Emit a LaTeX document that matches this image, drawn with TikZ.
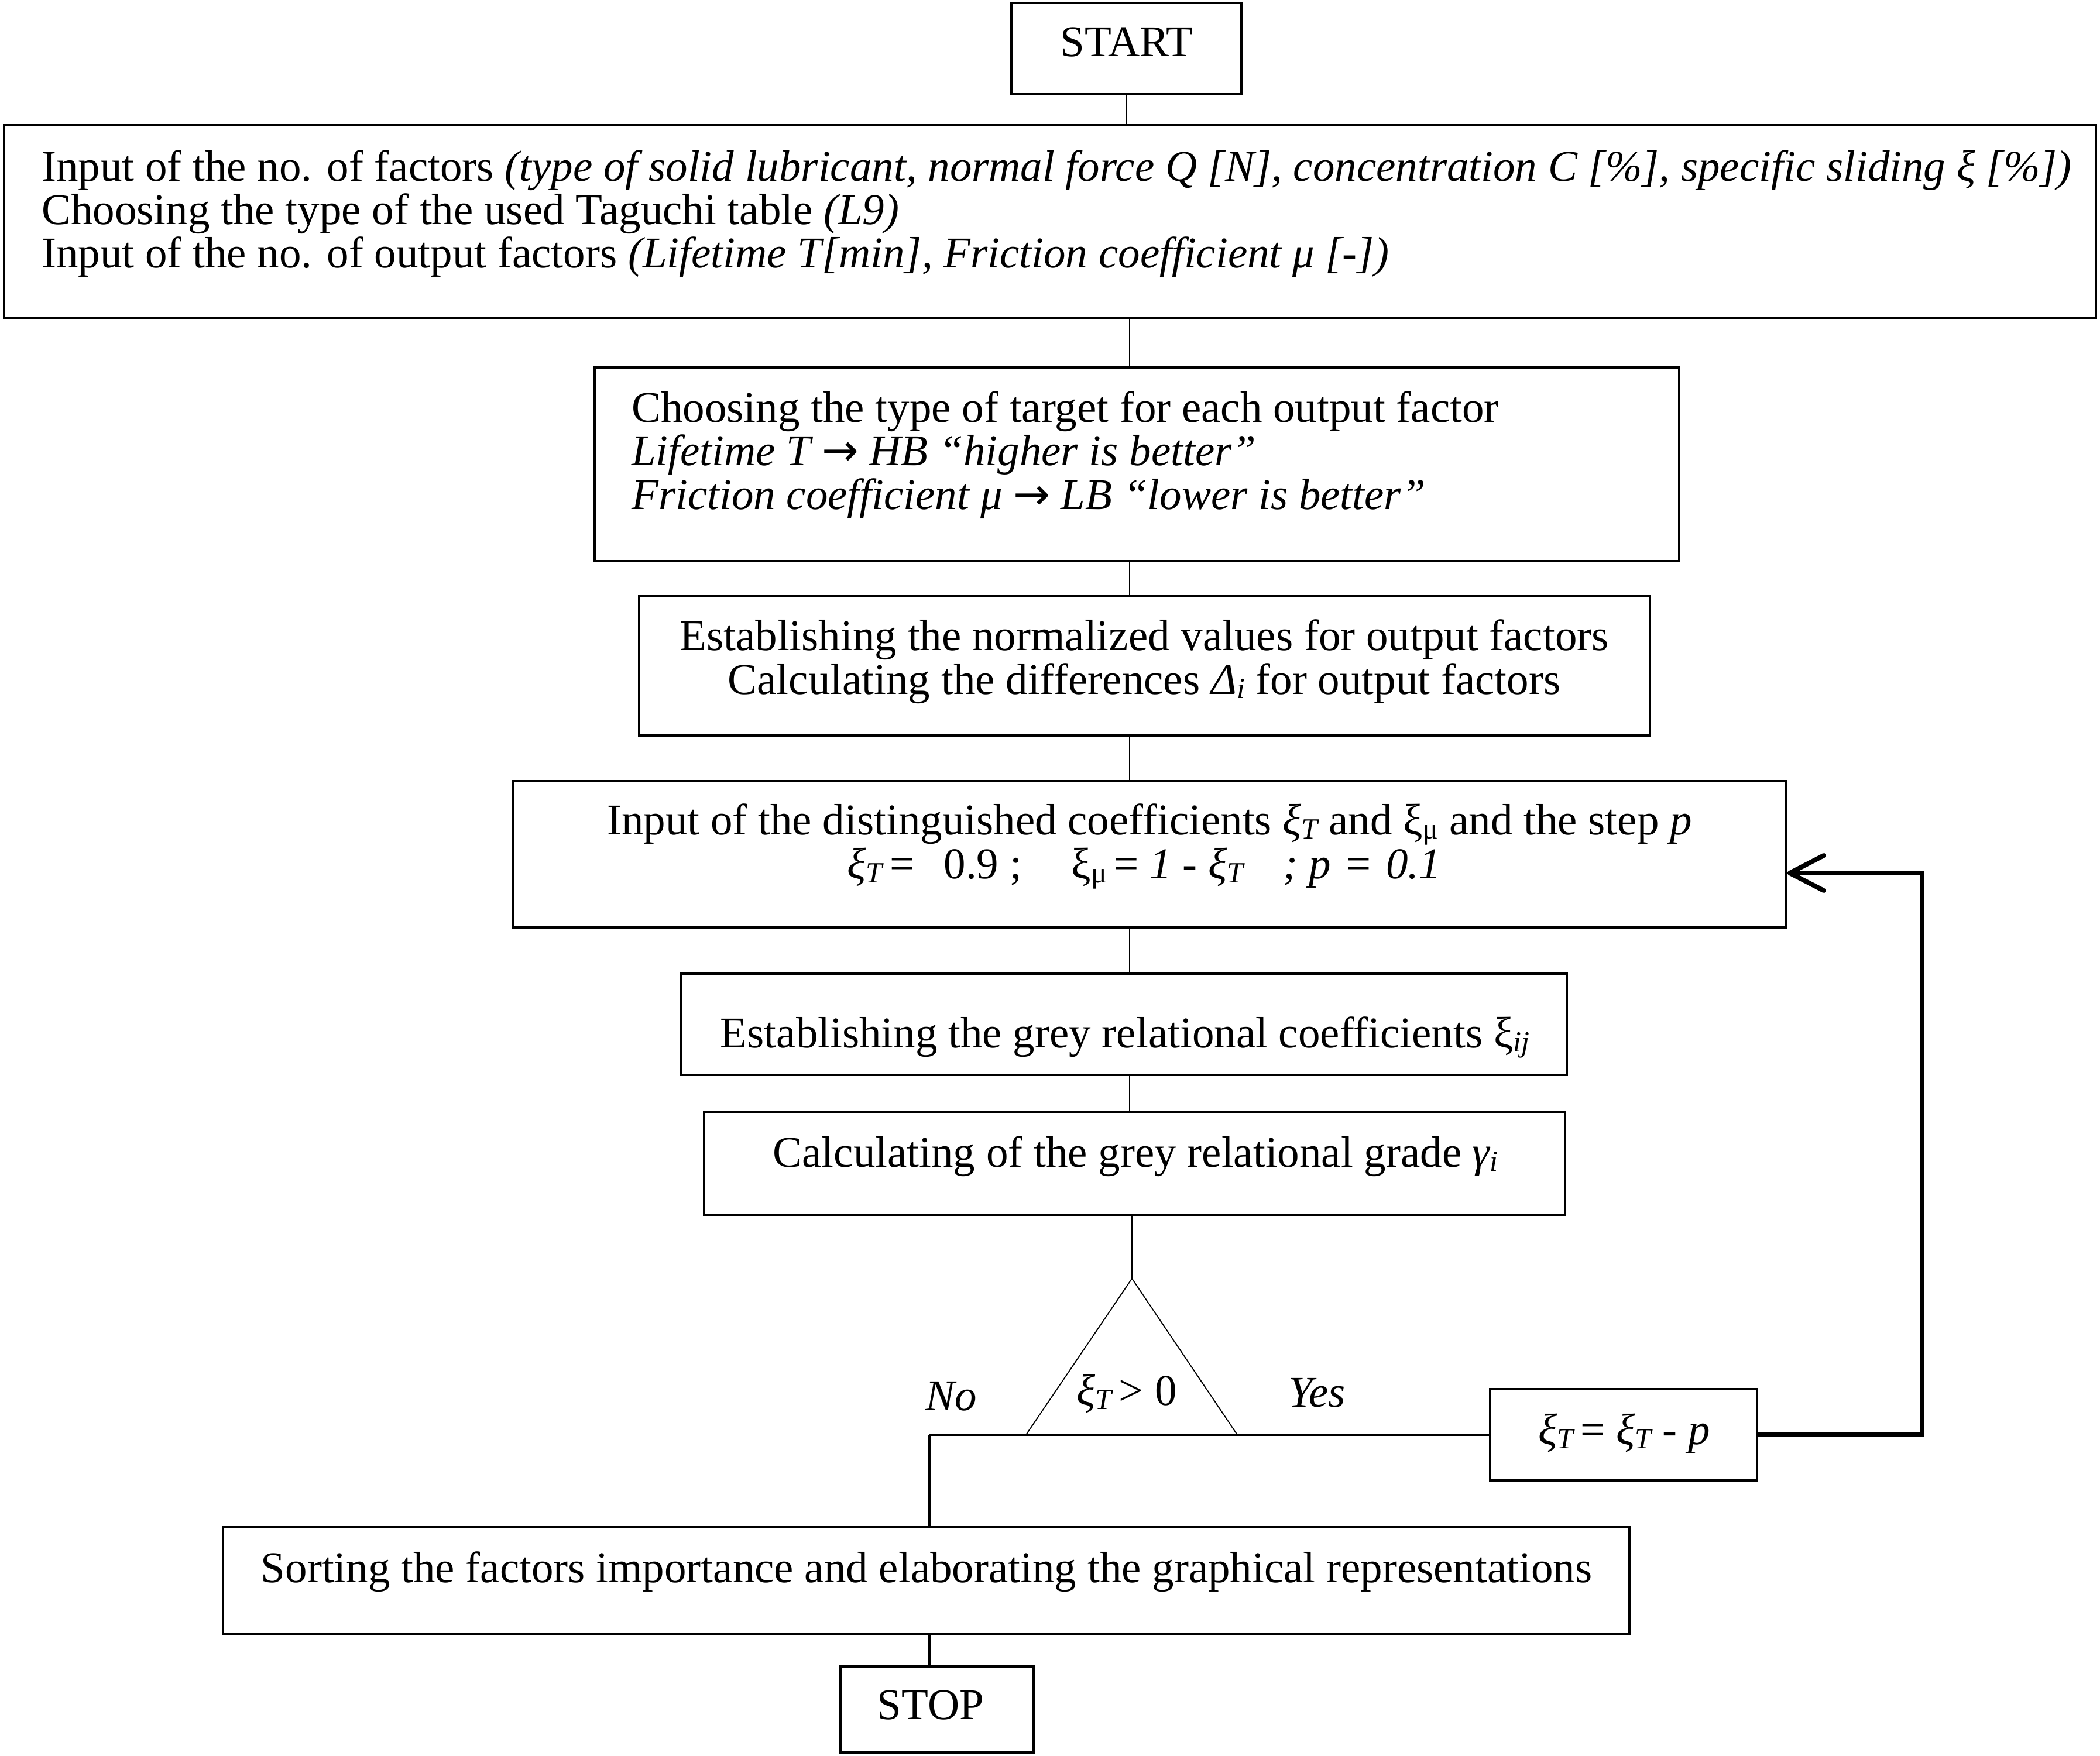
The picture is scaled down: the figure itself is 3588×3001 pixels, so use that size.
\documentclass[tikz,border=0pt]{standalone}
\usepackage{fontspec}
\setmainfont{Liberation Serif}
\newfontfamily\arrfont{DejaVu Sans}
\usetikzlibrary{arrows.meta,calc}
\newcommand\flfont{\fontsize{75}{75}\selectfont}
\newcommand\lowsub[1]{\raisebox{-7pt}{\fontsize{50}{50}\selectfont #1}}
\newcommand\rarr{{\upshape\arrfont →}}
\begin{document}
\begin{tikzpicture}[x=1pt,y=-1pt,
  box/.style={draw, line width=4pt, inner sep=0pt},
  conn/.style={line width=2pt},
  midl/.style={line width=3.5pt},
  loopl/.style={line width=8pt, line join=round},
  ltxt/.style={inner sep=0pt, font=\flfont, anchor=base west},
  ctxt/.style={inner sep=0pt, font=\flfont, anchor=base},
]
\useasboundingbox (0,0) rectangle (3588,3001);
\fill[white] (0,0) rectangle (3588,3001);

% boxes
\node[box, minimum width=393pt, minimum height=156pt] (start) at (1924.5,83) {};
\node[box, minimum width=3574pt, minimum height=330pt] (b1) at (1794,379) {};
\node[box, minimum width=1853pt, minimum height=331pt] (b2) at (1942.5,793.5) {};
\node[box, minimum width=1727pt, minimum height=239pt] (b3) at (1955.5,1137.5) {};
\node[box, minimum width=2175pt, minimum height=250pt] (b4) at (1964.5,1460) {};
\node[box, minimum width=1513pt, minimum height=173pt] (b5) at (1920.5,1750.5) {};
\node[box, minimum width=1471pt, minimum height=176pt] (b6) at (1938.5,1988) {};
\node[box, minimum width=456pt, minimum height=156pt] (b7) at (2774,2452) {};
\node[box, minimum width=2403pt, minimum height=183pt] (b8) at (1582.5,2701.5) {};
\node[box, minimum width=330pt, minimum height=147pt] (stop) at (1601,2921.5) {};

% texts
\node[ctxt] (tstart) at (1925,96) {START};

\node[ltxt] (t1a) at (71,309) {Input of the no. of factors \textit{(type of solid lubricant, normal force Q [N], concentration C [\%], specific sliding ξ [\%])}};
\node[ltxt] (t1b) at (71,383) {Choosing the type of the used Taguchi table \textit{(L9)}};
\node[ltxt] (t1c) at (71,457) {Input of the no. of output factors \textit{(Lifetime T[min], Friction coefficient μ [-])}};

\node[ltxt] (t2a) at (1079,721) {Choosing the type of target for each output factor};
\node[ltxt] (t2b) at (1079,795) {\textit{Lifetime T \rarr{} HB “higher is better”}};
\node[ltxt] (t2c) at (1079,870) {\textit{Friction coefficient μ \rarr{} LB “lower is better”}};

\node[ctxt] (t3a) at (1955,1111) {Establishing the normalized values for output factors};
\node[ctxt] (t3b) at (1955,1186) {Calculating the differences \textit{Δ\lowsub{i}} for output factors};

\node[ctxt] (t4a) at (1964,1426) {Input of the distinguished coefficients \textit{ξ\lowsub{T}} and ξ\lowsub{μ} and the step \textit{p}};
\node[ctxt] (t4b) at (1955,1501) {\textit{ξ\lowsub{T}}\,=\hspace{50pt}0.9 ;\hspace{85pt}ξ\lowsub{μ}\,= \textit{1 - ξ\lowsub{T}\hspace{68pt}; p\hspace{22pt}=\hspace{22pt}0.1}};

\node[ctxt] (t5) at (1922,1790) {Establishing the grey relational coefficients ξ\lowsub{\textit{ij}}};
\node[ctxt] (t6) at (1940,1994) {Calculating of the grey relational grade \textit{γ\lowsub{i}}};

\node[ctxt] (tdec) at (1925,2401) {\textit{ξ\lowsub{T}}\,> 0};
\node[ctxt] (tno) at (1625,2410) {\textit{No}};
\node[ctxt] (tyes) at (2250,2404) {\textit{Yes}};
\node[ctxt] (t7) at (2775,2468) {\textit{ξ\lowsub{T}}\,= \textit{ξ\lowsub{T}} - \textit{p}};

\node[ctxt] (t8) at (1583,2704) {Sorting the factors importance and elaborating the graphical representations};
\node[ctxt] (tstop) at (1590,2938) {STOP};

% decision triangle
\coordinate (apex) at (1934,2185);
\coordinate (tbl) at (1753,2452);
\coordinate (tbr) at (2114,2452);
\coordinate (nocorner) at (1588,2452);
\coordinate (loopx) at (3284,0);
\coordinate (spine) at (1930,0);
\coordinate (b4in) at ([yshift=-32pt]b4.east);
\draw[line width=1.8pt] (tbl) -- (apex) -- (tbr);

% connectors
\draw[conn] (start.south) -- (start.south |- b1.north);
\draw[conn] (b1.south -| spine) -- (b2.north -| spine);
\draw[conn] (b2.south -| spine) -- (b3.north -| spine);
\draw[conn] (b3.south -| spine) -- (b4.north -| spine);
\draw[conn] (b4.south -| spine) -- (b5.north -| spine);
\draw[conn] (b5.south -| spine) -- (b6.north -| spine);
\draw[conn] (b6.south -| apex) -- (apex);
\draw[midl] (nocorner) -- (b7.west);
\draw[midl] (nocorner) -- (nocorner |- b8.north);
\draw[midl] (b8.south -| nocorner) -- (stop.north -| nocorner);
\draw[loopl, -{Straight Barb[length=58pt,width=60pt,round]}]
  (b7.east) -- (b7.east -| loopx) -- (loopx |- b4in) -- (b4in);
\end{tikzpicture}
\end{document}
